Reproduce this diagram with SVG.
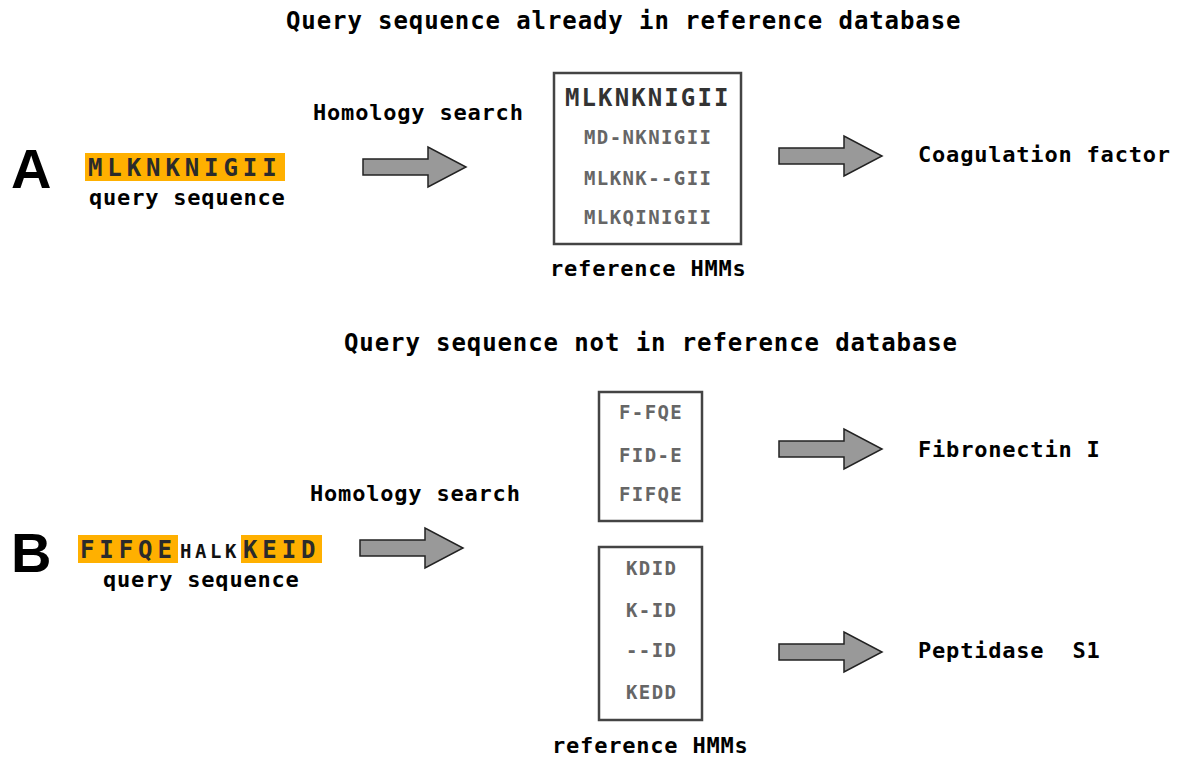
<svg xmlns="http://www.w3.org/2000/svg" width="1180" height="758" viewBox="0 0 1180 758">
  <style>
    text { font-family: "DejaVu Sans Mono", "Liberation Mono", monospace; font-weight: bold; }
    .title { font-size: 24px; letter-spacing: 0.9px; fill: #000; }
    .label { font-size: 22px; letter-spacing: 0.8px; fill: #000; }
    .panel { font-family: "Liberation Sans", Arial, sans-serif; font-size: 56px; fill: #000; }
    .seq { font-size: 24px; letter-spacing: 4.9px; fill: #2b2b2b; }
    .small { font-size: 19px; letter-spacing: 3.6px; fill: #111; }
    .hmm { fill: #fff; stroke: #444; stroke-width: 2.5; }
    .cons { font-size: 24px; letter-spacing: 2.1px; fill: #333; }
    .row { font-size: 19px; letter-spacing: 1.4px; fill: #666; }
    .hl { fill: #FFB000; }
    .arrow { fill: #999; stroke: #222; stroke-width: 1.5; stroke-linejoin: miter; }
  </style>
  <defs>
    <path id="arr" d="M0,-8 L65,-8 L65,-20 L103,0 L65,20 L65,8 L0,8 Z"/>
  </defs>

  <!-- section A -->
  <text class="title" x="286" y="29">Query sequence already in reference database</text>
  <text class="panel" x="11" y="188">A</text>

  <g id="queryA">
    <rect class="hl" x="85" y="153" width="200" height="28"/>
    <text class="seq" x="88" y="176">MLKNKNIGII</text>
    <text class="label" x="89" y="205">query sequence</text>
  </g>

  <text class="label" x="313" y="120">Homology search</text>

  <g id="hmmA">
    <rect class="hmm" x="554" y="73" width="187" height="171"/>
    <text class="cons" x="565" y="106">MLKNKNIGII</text>
    <text class="row" x="584" y="144">MD-NKNIGII</text>
    <text class="row" x="584" y="185">MLKNK--GII</text>
    <text class="row" x="584" y="224">MLKQINIGII</text>
    <text class="label" x="550" y="276">reference HMMs</text>
  </g>

  <g id="resultA">
    <text class="label" x="918" y="162">Coagulation factor</text>
  </g>

  <!-- section B -->
  <text class="title" x="344" y="351">Query sequence not in reference database</text>
  <text class="panel" x="11" y="572">B</text>

  <g id="queryB">
    <rect class="hl" x="78" y="535" width="100" height="28"/>
    <rect class="hl" x="241" y="535" width="81" height="28"/>
    <text x="80" y="558"><tspan class="seq">FIFQE</tspan><tspan class="small" x="180">HALK</tspan><tspan class="seq" x="243">KEID</tspan></text>
    <text class="label" x="103" y="587">query sequence</text>
  </g>

  <text class="label" x="310" y="501">Homology search</text>

  <g id="hmmB1">
    <rect class="hmm" x="599" y="392" width="103" height="129"/>
    <text class="row" x="619" y="419">F-FQE</text>
    <text class="row" x="619" y="462">FID-E</text>
    <text class="row" x="619" y="501">FIFQE</text>
  </g>

  <g id="hmmB2">
    <rect class="hmm" x="599" y="547" width="103" height="173"/>
    <text class="row" x="626" y="575">KDID</text>
    <text class="row" x="626" y="617">K-ID</text>
    <text class="row" x="626" y="657">--ID</text>
    <text class="row" x="626" y="699">KEDD</text>
    <text class="label" x="552" y="753">reference HMMs</text>
  </g>

  <g id="resultB1">
    <text class="label" x="918" y="457">Fibronectin I</text>
  </g>
  <g id="resultB2">
    <text class="label" x="918" y="658" xml:space="preserve">Peptidase  S1</text>
  </g>

  <!-- connectors -->
  <g id="connectors">
    <use href="#arr" class="arrow" transform="translate(363,167)"/>
    <use href="#arr" class="arrow" transform="translate(779,156)"/>
    <use href="#arr" class="arrow" transform="translate(360,548)"/>
    <use href="#arr" class="arrow" transform="translate(779,449)"/>
    <use href="#arr" class="arrow" transform="translate(779,652)"/>
  </g>
</svg>
